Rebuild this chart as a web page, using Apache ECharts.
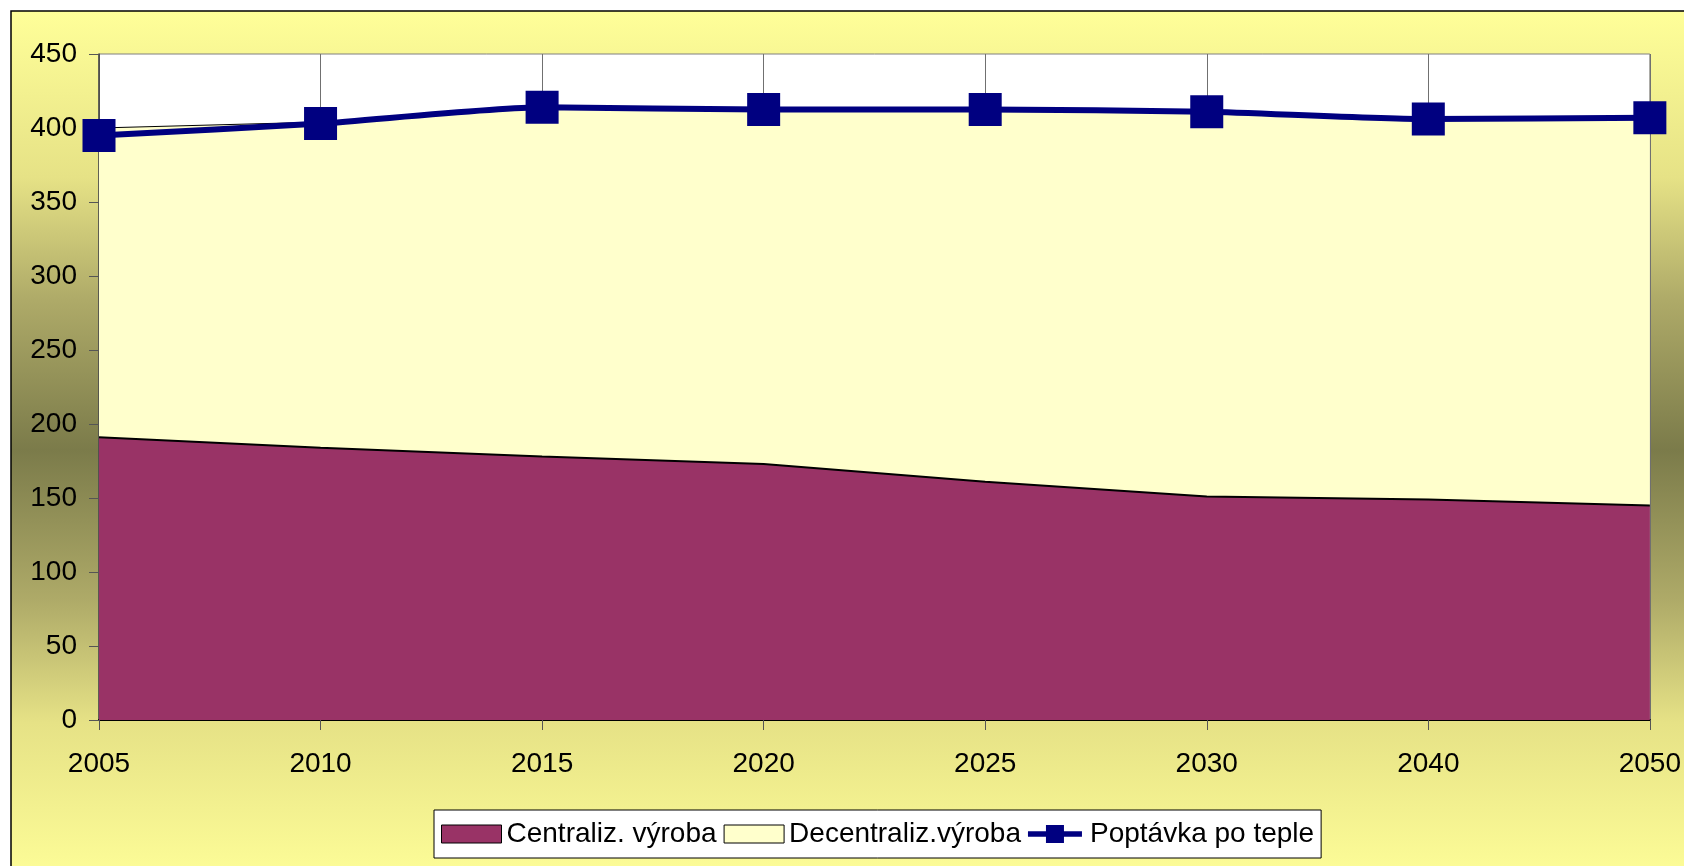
<!DOCTYPE html>
<html>
<head>
<meta charset="utf-8">
<script src="https://cdn.jsdelivr.net/npm/echarts@6/dist/echarts.min.js"></script>
<style>
html,body{margin:0;padding:0;background:#fff;}
#chart{width:1684px;height:866px;}
</style>
</head>
<body>
<div id="chart"></div>
<script>
const categories = ['2005','2010','2015','2020','2025','2030','2040','2050'];
const centralizVyroba = [191, 184, 178, 173, 161, 151, 149, 145];
const decentralizVyroba = [209, 220, 236, 240, 252, 260, 257, 262];
const poptavkaPoTeple = [395, 403, 414, 412.5, 412.5, 411, 406, 407];
const yTicks = {min: 0, max: 450, interval: 50};

const FONT = 'Arial, "Liberation Sans", sans-serif';
const chart = echarts.init(document.getElementById('chart'), null, {renderer: 'canvas'});

chart.setOption({
  backgroundColor: '#ffffff',
  animation: false,
  graphic: [{
    type: 'rect',
    z: -100,
    silent: true,
    shape: {x: 11, y: 11, width: 1720, height: 878},
    style: {
      fill: {
        type: 'linear', x: 0, y: 0, x2: 0, y2: 1,
        colorStops: [
          {offset: 0, color: '#ffff99'},
          {offset: 0.19, color: '#e6e286'},
          {offset: 0.33, color: '#aeaa68'},
          {offset: 0.5, color: '#7b7b4a'},
          {offset: 0.67, color: '#aeaa68'},
          {offset: 0.81, color: '#e6e286'},
          {offset: 1, color: '#ffff99'}
        ]
      },
      stroke: '#000000',
      lineWidth: 1.5
    }
  }],
  grid: {
    left: 99, top: 54, width: 1552, height: 666,
    show: true, backgroundColor: '#ffffff', borderColor: '#808080', borderWidth: 1
  },
  legend: {
    left: 434, top: 810,
    padding: [10, 7, 10, 7],
    backgroundColor: '#ffffff',
    borderColor: '#000000', borderWidth: 1,
    itemWidth: 60, itemHeight: 18, itemGap: 7,
    textStyle: {fontFamily: FONT, fontSize: 28, color: '#000'},
    data: [
      {name: 'Centraliz. výroba', icon: 'rect', itemStyle: {borderColor: '#000', borderWidth: 1}},
      {name: 'Decentraliz.výroba', icon: 'rect', itemStyle: {borderColor: '#000', borderWidth: 1}},
      {name: 'Poptávka po teple', icon: 'path://M0,7H20V0H40V7H60V13H40V20H20V13H0Z',
       itemStyle: {color: '#000080', borderWidth: 0}}
    ]
  },
  xAxis: {
    type: 'category',
    data: categories,
    boundaryGap: false,
    axisLine: {show: true, lineStyle: {color: '#000', width: 2}},
    axisTick: {show: true, length: 10, lineStyle: {color: '#555'}},
    axisLabel: {fontFamily: FONT, fontSize: 28, color: '#000', margin: 30},
    splitLine: {show: true, lineStyle: {color: '#707070', width: 1}}
  },
  yAxis: {
    type: 'value',
    min: yTicks.min, max: yTicks.max, interval: yTicks.interval,
    axisLine: {show: true, lineStyle: {color: '#444', width: 1.5}},
    axisTick: {show: true, length: 10, lineStyle: {color: '#555'}},
    axisLabel: {fontFamily: FONT, fontSize: 28, color: '#000', margin: 22},
    splitLine: {show: false}
  },
  series: [
    {
      name: 'Centraliz. výroba',
      type: 'line',
      stack: 'heat',
      data: centralizVyroba,
      symbol: 'none',
      lineStyle: {color: '#000', width: 2},
      itemStyle: {color: '#993366'},
      areaStyle: {color: '#993366', opacity: 1}
    },
    {
      name: 'Decentraliz.výroba',
      type: 'line',
      stack: 'heat',
      data: decentralizVyroba,
      symbol: 'none',
      lineStyle: {color: '#000', width: 1},
      itemStyle: {color: '#ffffcc'},
      areaStyle: {color: '#ffffcc', opacity: 1}
    },
    {
      name: 'Poptávka po teple',
      type: 'line',
      data: poptavkaPoTeple,
      symbol: 'rect',
      symbolSize: 33,
      smooth: 0.2,
      lineStyle: {color: '#000080', width: 6},
      itemStyle: {color: '#000080'},
      z: 5
    }
  ]
});
</script>
</body>
</html>
